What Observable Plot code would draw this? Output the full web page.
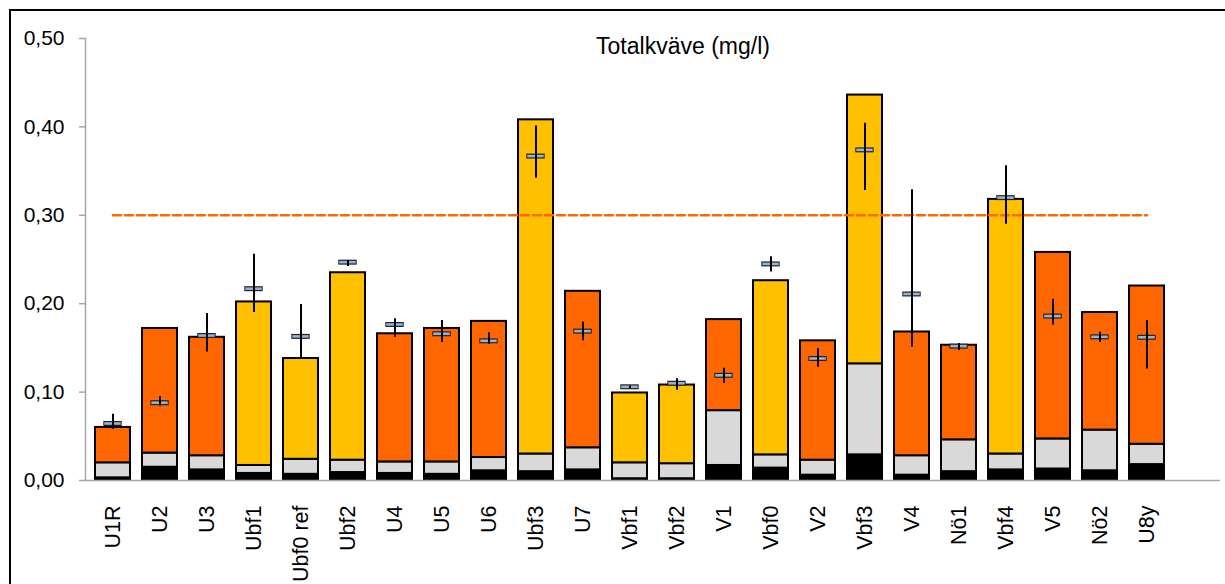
<!DOCTYPE html>
<html>
<head>
<meta charset="utf-8">
<script src="https://cdn.jsdelivr.net/npm/d3@7"></script>
<script src="https://cdn.jsdelivr.net/npm/@observablehq/plot@0.6"></script>
<style>
  html, body { margin: 0; padding: 0; background: #fff; overflow: hidden; width: 1225px; height: 584px; }
  #wrap { position: relative; width: 1225px; height: 584px; }
  #border { position: absolute; left: 9px; top: 9px; width: 1300px; height: 700px; border: 2px solid #000; box-sizing: border-box; }
  #title { position: absolute; left: 483px; width: 400px; top: 35px; text-align: center; font: 23px/22px "Liberation Sans", Arial, sans-serif; color: #000; }
  #chart { position: absolute; left: 0; top: 0; }
</style>
</head>
<body>
<div id="wrap">
  <div id="border"></div>
  <div id="chart"></div>
  <div id="title">Totalkväve (mg/l)</div>
</div>
<script>
const sites = ["U1R","U2","U3","Ubf1","Ubf0 ref","Ubf2","U4","U5","U6","Ubf3","U7","Vbf1","Vbf2","V1","Vbf0","V2","Vbf3","V4","Nö1","Vbf4","V5","Nö2","U8y"];
// stacked components (mg/l): bottom (black), middle (grey), top (orange / yellow)
const partBlack = [0.003,0.015,0.012,0.008,0.007,0.009,0.008,0.007,0.011,0.010,0.012,0.002,0.002,0.017,0.014,0.006,0.029,0.006,0.010,0.012,0.013,0.011,0.018];
const partGrey  = [0.017,0.016,0.016,0.009,0.017,0.014,0.013,0.014,0.015,0.020,0.025,0.018,0.017,0.062,0.015,0.017,0.103,0.022,0.036,0.018,0.034,0.046,0.023];
const partTop   = [0.040,0.141,0.134,0.185,0.114,0.212,0.145,0.151,0.154,0.378,0.177,0.079,0.089,0.103,0.197,0.135,0.304,0.140,0.107,0.288,0.211,0.133,0.179];
// marker (mean) with error range
const meanVal = [0.0645,0.088,0.164,0.217,0.163,0.247,0.1765,0.166,0.158,0.367,0.169,0.106,0.110,0.119,0.245,0.138,0.374,0.211,0.152,0.320,0.186,0.1625,0.162];
const lowVal  = [0.058,0.084,0.1455,0.190,0.138,0.242,0.162,0.156,0.154,0.342,0.158,0.104,0.102,0.110,0.236,0.128,0.328,0.151,0.147,0.290,0.176,0.156,0.126];
const highVal = [0.075,0.095,0.189,0.256,0.199,0.249,0.183,0.181,0.167,0.401,0.179,0.107,0.115,0.127,0.253,0.149,0.404,0.329,0.155,0.356,0.205,0.168,0.181];
const limitVal = [0.30];
const yTicks = [0, 0.1, 0.2, 0.3, 0.4, 0.5];

const ORANGE = "#ff6600", YELLOW = "#ffc000", GREY = "#d9d9d9", BLACK = "#000000";

const rows = [];
sites.forEach((s, i) => {
  rows.push({site: s, part: "a", value: partBlack[i], color: BLACK});
  rows.push({site: s, part: "b", value: partGrey[i], color: GREY});
  rows.push({site: s, part: "c", value: partTop[i], color: s.includes("bf") ? YELLOW : ORANGE});
});
const marks = sites.map((s, i) => ({site: s, mean: meanVal[i], lo: lowVal[i], hi: highVal[i]}));
const limitLine = [sites[0], sites[sites.length - 1]].map(s => ({site: s, y: limitVal[0]}));

const fmt = d => d.toFixed(2).replace(".", ",");

const chart = Plot.plot({
  width: 1225,
  height: 584,
  marginLeft: 85,
  marginRight: 5,
  marginTop: 38,
  marginBottom: 104,
  style: {fontFamily: '"Liberation Sans", Arial, sans-serif', fontSize: "21px", color: "#000", background: "transparent"},
  x: {domain: [...sites, " "], paddingInner: 0.26, paddingOuter: 0.13, label: null, axis: null},
  y: {domain: [0, 0.5], label: null, axis: null},
  marks: [
    Plot.frame({anchor: "left", stroke: "#a6a6a6", strokeWidth: 1.5}),
    Plot.axisY(yTicks, {tickSize: 6, tickPadding: 15, tickFormat: fmt, stroke: "#a6a6a6", strokeWidth: 1.5, fill: "#000", fontSize: 21}),
    Plot.axisX({tickSize: 0, tickPadding: 25, tickRotate: -90, fill: "#000", fontSize: 21.5}),
    Plot.barY(rows, Plot.stackY({x: "site", y: "value", z: "part", fill: "color", stroke: "#000", strokeWidth: 2, order: null})),
    Plot.ruleY([0], {stroke: "#a6a6a6", strokeWidth: 1.5}),
    Plot.lineY(limitLine, {x: "site", y: "y", stroke: ORANGE, strokeWidth: 2.6, strokeDasharray: "8,4"}),
    Plot.tickY(marks, {x: "site", y: "mean", stroke: "#222", strokeWidth: 5, inset: 8.3}),
    Plot.tickY(marks, {x: "site", y: "mean", stroke: "#95b3d7", strokeWidth: 2.6, inset: 9.3}),
    Plot.ruleX(marks, {x: "site", y1: "lo", y2: "hi", stroke: "#000", strokeWidth: 2})
  ]
});
document.getElementById("chart").appendChild(chart);
</script>
</body>
</html>
